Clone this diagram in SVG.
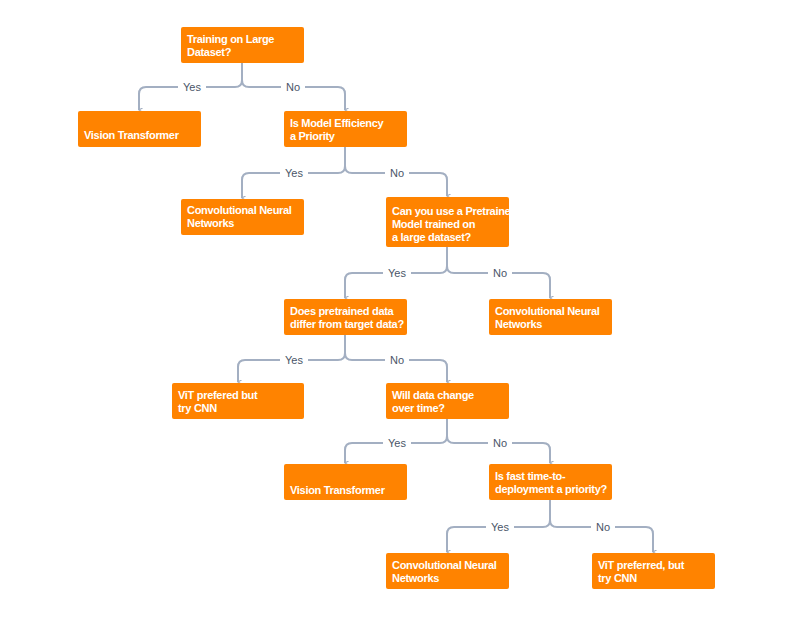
<svg xmlns="http://www.w3.org/2000/svg" width="800" height="618" viewBox="0 0 800 618">
<style>
.n{fill:#FF8300;}
.t{font-family:"Liberation Sans",Arial,sans-serif;font-weight:bold;font-size:11px;fill:#fff;letter-spacing:-0.3px}
.e{fill:none;stroke:#A3AFC2;stroke-width:2}
.l{font-family:"Liberation Sans",Arial,sans-serif;font-size:11px;fill:#4A5568;text-anchor:middle}
.bg{fill:#fff}
</style>
<defs><marker id="a" viewBox="0 0 10 10" refX="5" refY="8" markerWidth="5" markerHeight="5" orient="auto-start-reverse" markerUnits="userSpaceOnUse"><path d="M0,0 L5,8 L10,0" fill="none" stroke="#A3AFC2" stroke-width="2.2"/></marker></defs>
<rect width="800" height="618" fill="#fff"/>
<g id="edges">
<path class="e" marker-end="url(#a)" d="M242,63 V80 Q242,87 235,87 H146 Q139,87 139,94 V110"/>
<path class="e" marker-end="url(#a)" d="M242,63 V80 Q242,87 249,87 H338 Q345,87 345,94 V110"/>
<path class="e" marker-end="url(#a)" d="M345,147 V166 Q345,173 338,173 H249 Q242,173 242,180 V198"/>
<path class="e" marker-end="url(#a)" d="M345,147 V166 Q345,173 352,173 H440 Q447,173 447,180 V196"/>
<path class="e" marker-end="url(#a)" d="M447,247 V266 Q447,273 440,273 H352 Q345,273 345,280 V298"/>
<path class="e" marker-end="url(#a)" d="M447,247 V266 Q447,273 454,273 H543 Q550,273 550,280 V298"/>
<path class="e" marker-end="url(#a)" d="M345,335 V353 Q345,360 338,360 H245 Q238,360 238,367 V382"/>
<path class="e" marker-end="url(#a)" d="M345,335 V353 Q345,360 352,360 H440 Q447,360 447,367 V382"/>
<path class="e" marker-end="url(#a)" d="M447,419 V436 Q447,443 440,443 H352 Q345,443 345,450 V463"/>
<path class="e" marker-end="url(#a)" d="M447,419 V436 Q447,443 454,443 H543 Q550,443 550,450 V463"/>
<path class="e" marker-end="url(#a)" d="M550,500 V520 Q550,527 543,527 H454 Q447,527 447,534 V552"/>
<path class="e" marker-end="url(#a)" d="M550,500 V520 Q550,527 557,527 H646 Q653,527 653,534 V552"/>
<g>
<rect class="bg" x="178" y="80" width="28" height="14"/><text class="l" x="192" y="91">Yes</text>
<rect class="bg" x="281" y="80" width="24" height="14"/><text class="l" x="293" y="91">No</text>
<rect class="bg" x="280" y="166" width="28" height="14"/><text class="l" x="294" y="177">Yes</text>
<rect class="bg" x="385" y="166" width="24" height="14"/><text class="l" x="397" y="177">No</text>
<rect class="bg" x="383" y="266" width="28" height="14"/><text class="l" x="397" y="277">Yes</text>
<rect class="bg" x="488" y="266" width="24" height="14"/><text class="l" x="500" y="277">No</text>
<rect class="bg" x="280" y="353" width="28" height="14"/><text class="l" x="294" y="364">Yes</text>
<rect class="bg" x="385" y="353" width="24" height="14"/><text class="l" x="397" y="364">No</text>
<rect class="bg" x="383" y="436" width="28" height="14"/><text class="l" x="397" y="447">Yes</text>
<rect class="bg" x="488" y="436" width="24" height="14"/><text class="l" x="500" y="447">No</text>
<rect class="bg" x="486" y="520" width="28" height="14"/><text class="l" x="500" y="531">Yes</text>
<rect class="bg" x="591" y="520" width="24" height="14"/><text class="l" x="603" y="531">No</text>
</g>
</g>
<g id="n1"><rect class="n" x="181" y="27" width="123" height="36" rx="2"/><text class="t" x="187" y="43">Training on Large</text><text class="t" x="187" y="56">Dataset?</text></g>
<g id="n2"><rect class="n" x="78" y="111" width="123" height="36" rx="2"/><text class="t" x="84" y="139">Vision Transformer</text></g>
<g id="n3"><rect class="n" x="284" y="111" width="123" height="36" rx="2"/><text class="t" x="290" y="127">Is Model Efficiency</text><text class="t" x="290" y="140">a Priority</text></g>
<g id="n4"><rect class="n" x="181" y="199" width="123" height="36" rx="2"/><text class="t" x="187" y="214">Convolutional Neural</text><text class="t" x="187" y="227">Networks</text></g>
<g id="n5"><rect class="n" x="386" y="197" width="123" height="50" rx="2"/><text class="t" x="392" y="215">Can you use a Pretrained</text><text class="t" x="392" y="228">Model trained on</text><text class="t" x="392" y="241">a large dataset?</text></g>
<g id="n6"><rect class="n" x="284" y="299" width="123" height="36" rx="2"/><text class="t" x="290" y="315">Does pretrained data</text><text class="t" x="290" y="328">differ from target data?</text></g>
<g id="n7"><rect class="n" x="489" y="299" width="123" height="36" rx="2"/><text class="t" x="495" y="315">Convolutional Neural</text><text class="t" x="495" y="328">Networks</text></g>
<g id="n8"><rect class="n" x="172" y="383" width="132" height="36" rx="2"/><text class="t" x="178" y="399">ViT prefered but</text><text class="t" x="178" y="412">try CNN</text></g>
<g id="n9"><rect class="n" x="386" y="383" width="123" height="36" rx="2"/><text class="t" x="392" y="399">Will data change</text><text class="t" x="392" y="412">over time?</text></g>
<g id="n10"><rect class="n" x="284" y="464" width="123" height="36" rx="2"/><text class="t" x="290" y="494">Vision Transformer</text></g>
<g id="n11"><rect class="n" x="489" y="464" width="123" height="36" rx="2"/><text class="t" x="495" y="480">Is fast time-to-</text><text class="t" x="495" y="493">deployment a priority?</text></g>
<g id="n12"><rect class="n" x="386" y="553" width="123" height="36" rx="2"/><text class="t" x="392" y="569">Convolutional Neural</text><text class="t" x="392" y="582">Networks</text></g>
<g id="n13"><rect class="n" x="592" y="553" width="123" height="36" rx="2"/><text class="t" x="598" y="569">ViT preferred, but</text><text class="t" x="598" y="582">try CNN</text></g>
</svg>
